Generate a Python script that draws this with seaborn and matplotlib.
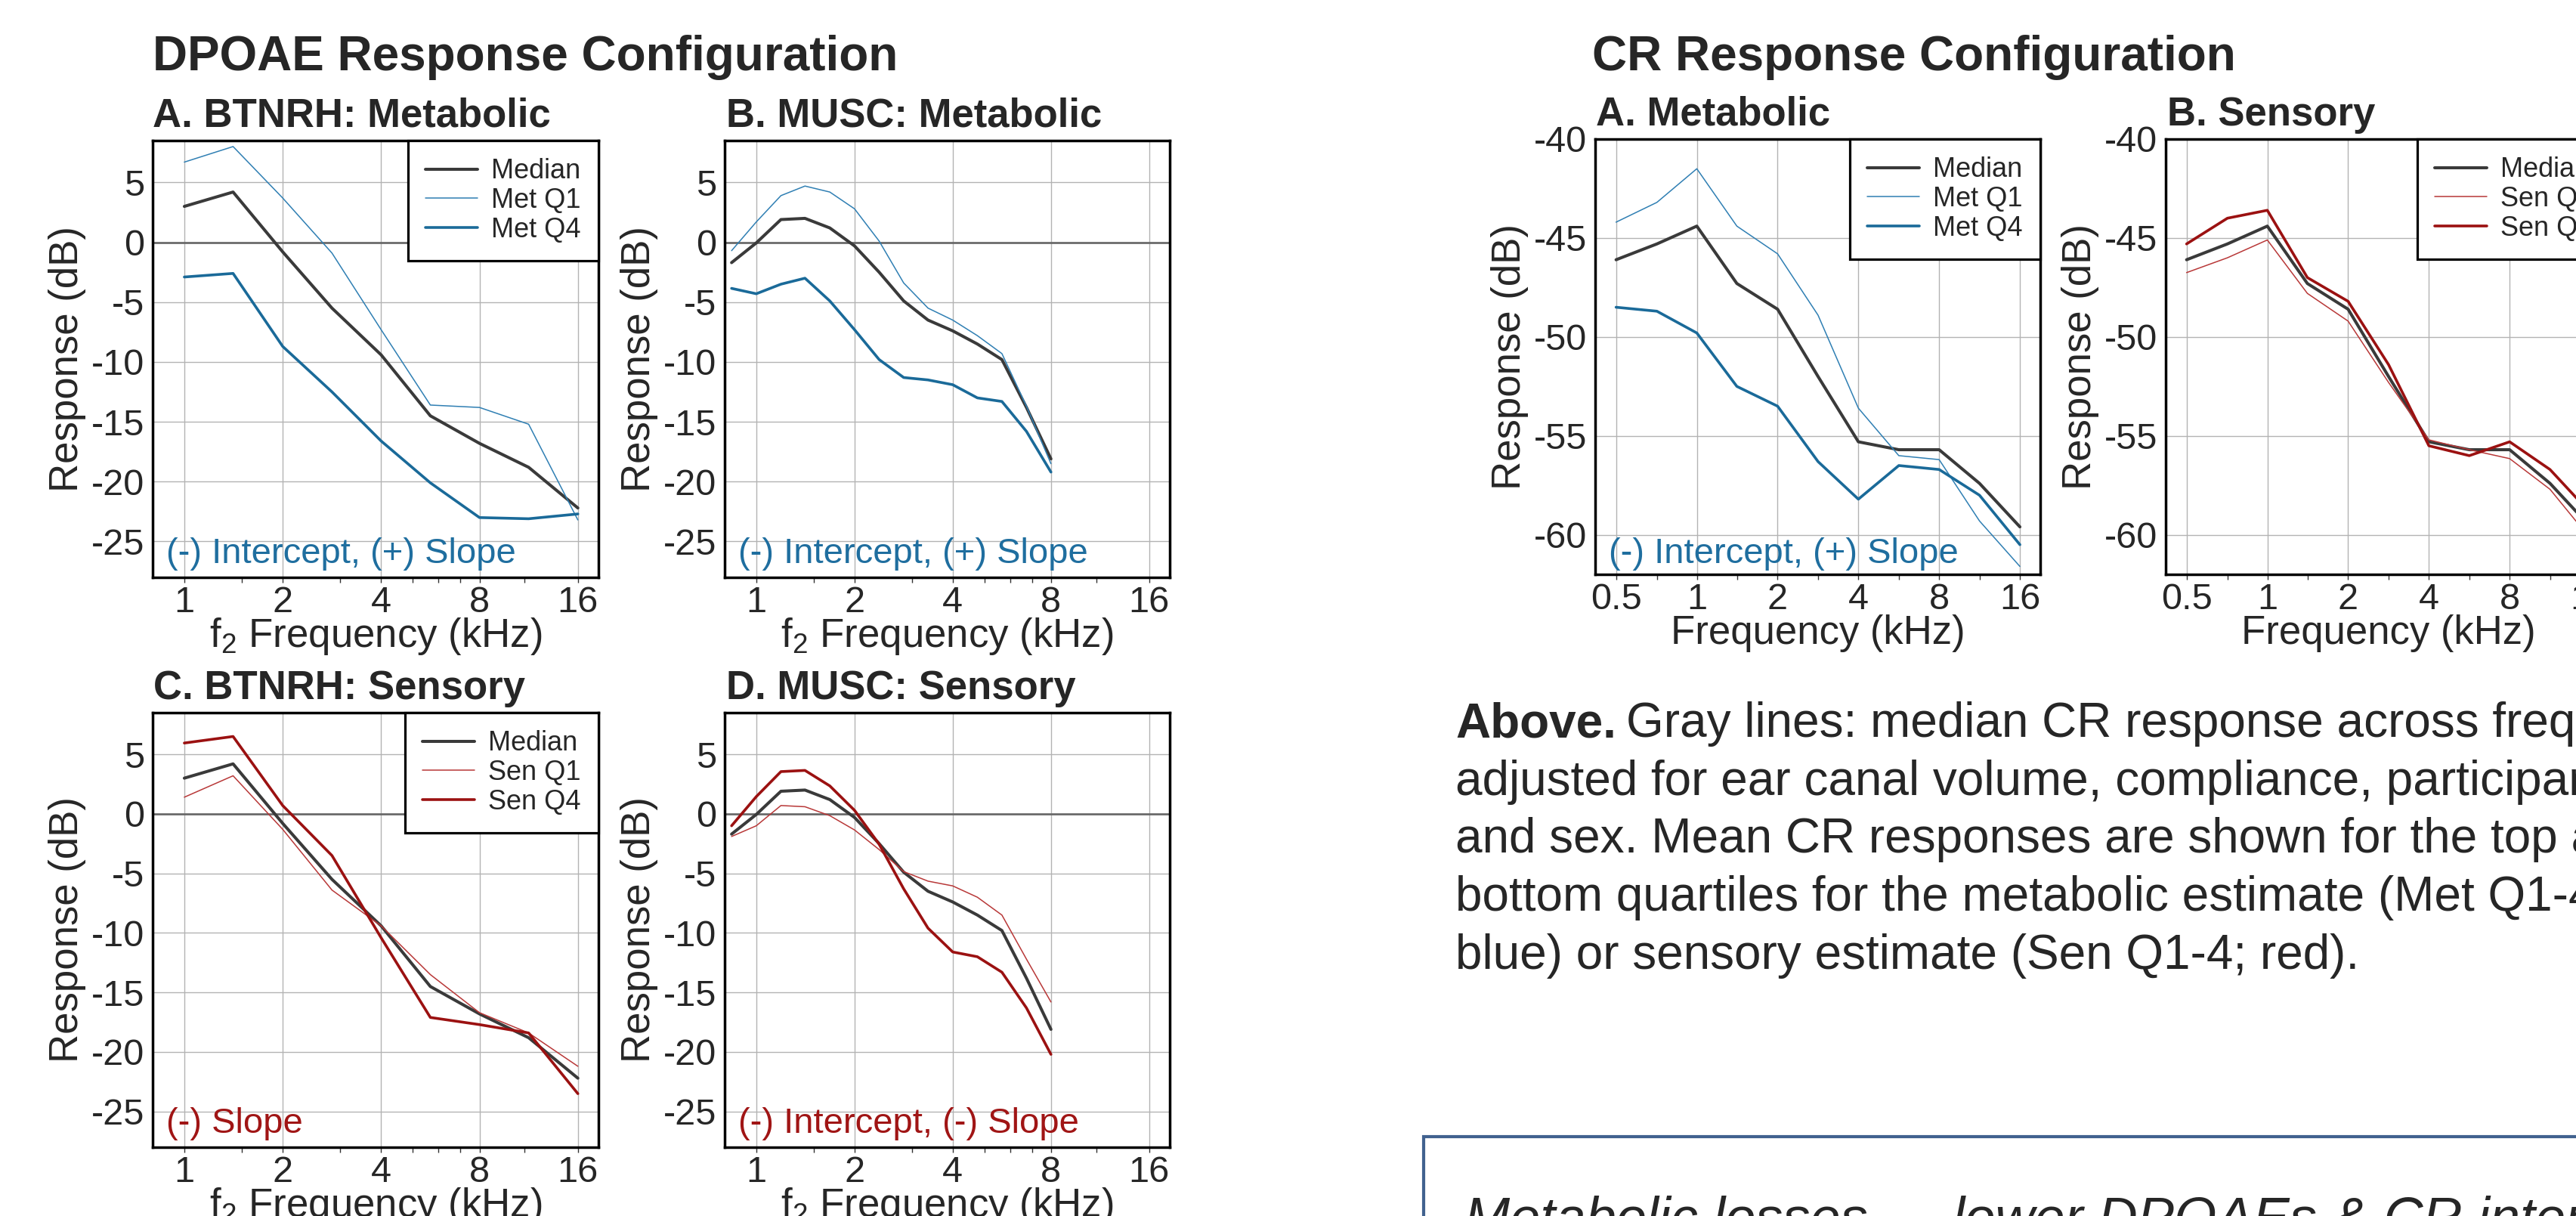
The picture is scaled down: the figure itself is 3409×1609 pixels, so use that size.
import matplotlib
matplotlib.use("Agg")
import matplotlib.pyplot as plt
import seaborn as sns
import numpy as np
import pandas as pd
from matplotlib.ticker import FixedLocator, NullFormatter, FixedFormatter
from matplotlib.patches import Rectangle

# ---------------- data ----------------
dp_freq_btnrh = [1.0, 1.41, 2.0, 2.83, 4.0, 5.66, 8.0, 11.31, 16.0]
dp_freq_musc = [0.84, 1.0, 1.19, 1.41, 1.68, 2.0, 2.38, 2.83, 3.36, 4.0, 4.76, 5.66, 6.73, 8.0]

btnrh_median = [3.0, 4.2, -0.8, -5.5, -9.4, -14.5, -16.8, -18.8, -22.2]
btnrh_met_q1 = [6.7, 8.0, 3.7, -0.9, -7.3, -13.6, -13.8, -15.2, -23.2]
btnrh_met_q4 = [-2.9, -2.6, -8.7, -12.5, -16.6, -20.1, -23.0, -23.1, -22.7]
btnrh_sen_q1 = [1.4, 3.2, -1.3, -6.4, -9.4, -13.5, -16.7, -18.4, -21.2]
btnrh_sen_q4 = [5.95, 6.5, 0.7, -3.5, -10.4, -17.1, -17.7, -18.4, -23.5]

musc_median = [-1.7, -0.05, 1.9, 2.0, 1.2, -0.3, -2.5, -4.9, -6.5, -7.4, -8.5, -9.8, -13.8, -18.1]
musc_met_q1 = [-0.7, 1.7, 3.9, 4.7, 4.2, 2.8, 0.1, -3.4, -5.5, -6.5, -7.8, -9.3, -13.7, -18.5]
musc_met_q4 = [-3.85, -4.3, -3.5, -3.0, -4.9, -7.3, -9.8, -11.3, -11.5, -11.9, -13.0, -13.3, -15.8, -19.2]
musc_sen_q1 = [-1.9, -1.0, 0.7, 0.6, -0.15, -1.35, -3.0, -4.85, -5.65, -6.05, -7.0, -8.5, -12.2, -15.8]
musc_sen_q4 = [-1.0, 1.45, 3.55, 3.65, 2.35, 0.3, -2.55, -6.3, -9.6, -11.6, -12.0, -13.3, -16.3, -20.2]

cr_freq = [0.5, 0.71, 1.0, 1.41, 2.0, 2.83, 4.0, 5.66, 8.0, 11.31, 16.0]
cr_median = [-46.1, -45.3, -44.4, -47.3, -48.6, -52.0, -55.3, -55.7, -55.7, -57.4, -59.6]
cr_met_q1 = [-44.2, -43.2, -41.5, -44.4, -45.8, -48.9, -53.6, -56.0, -56.2, -59.3, -61.6]
cr_met_q4 = [-48.5, -48.7, -49.8, -52.5, -53.5, -56.3, -58.2, -56.5, -56.7, -58.0, -60.5]
cr_sen_q1 = [-46.75, -46.0, -45.1, -47.8, -49.2, -52.3, -55.2, -55.7, -56.15, -57.7, -60.2]
cr_sen_q4 = [-45.3, -44.0, -43.6, -47.0, -48.2, -51.4, -55.5, -56.0, -55.3, -56.7, -58.9]

dp_xticks = [1, 2, 4, 8, 16]
dp_xticklabels = ["1", "2", "4", "8", "16"]
dp_xminor = [1.5, 3, 5, 6, 7, 11]
dp_yticks = [-25, -20, -15, -10, -5, 0, 5]
dp_yticklabels = ["-25", "-20", "-15", "-10", "-5", "0", "5"]
cr_xticks = [0.5, 1, 2, 4, 8, 16]
cr_xticklabels = ["0.5", "1", "2", "4", "8", "16"]
cr_xminor = [0.71, 1.41, 2.83, 5.66, 11.31]
cr_yticks = [-60, -55, -50, -45, -40]
cr_yticklabels = ["-60", "-55", "-50", "-45", "-40"]

caption_lines = [
    "Gray lines: median CR response across frequency,",
    "adjusted for ear canal volume, compliance, participant age,",
    "and sex. Mean CR responses are shown for the top and",
    "bottom quartiles for the metabolic estimate (Met Q1-4;",
    "blue) or sensory estimate (Sen Q1-4; red).",
]

# ---------------- style ----------------
sns.set_theme(style="white")
FONT = ["Liberation Sans", "Arial", "DejaVu Sans"]
plt.rcParams["font.family"] = FONT
plt.rcParams["mathtext.default"] = "regular"
plt.rcParams["axes.unicode_minus"] = False

C_MED = "#3a3a3a"
C_MET1 = "#2f7fb3"
C_MET4 = "#1a6a99"
C_SEN1 = "#b83838"
C_SEN4 = "#9b1111"
C_BLUE_TXT = "#1f6e9f"
C_RED_TXT = "#a01515"

TICK_FS = 35
LAB_FS = 38
LEG_FS = 26

W, H = 3409, 1609
fig = plt.figure(figsize=(W / 100, H / 100), dpi=100)


def add_ax(x0, y0, x1, y1):
    return fig.add_axes([x0 / W, 1 - y1 / H, (x1 - x0) / W, (y1 - y0) / H])


def panel(ax, freq, med, q1, q4, q1c, q4c, labels, xlim, ylim, xt, xtl, xmin, yt, ytl,
          zero, annot, annot_c, xlabel, annot_y=0.033):
    ax.set_xscale("log", base=2)
    sns.lineplot(x=freq, y=med, ax=ax, color=C_MED, linewidth=2.9, label=labels[0],
                 estimator=None, sort=False, zorder=4)
    sns.lineplot(x=freq, y=q1, ax=ax, color=q1c, linewidth=1.1, label=labels[1],
                 estimator=None, sort=False, zorder=4)
    sns.lineplot(x=freq, y=q4, ax=ax, color=q4c, linewidth=2.6, label=labels[2],
                 estimator=None, sort=False, zorder=4)
    ax.set_xlim(*xlim)
    ax.set_ylim(*ylim)
    ax.xaxis.set_major_locator(FixedLocator(xt))
    ax.xaxis.set_major_formatter(FixedFormatter(xtl))
    ax.xaxis.set_minor_locator(FixedLocator(xmin))
    ax.xaxis.set_minor_formatter(NullFormatter())
    ax.yaxis.set_major_locator(FixedLocator(yt))
    ax.yaxis.set_major_formatter(FixedFormatter(ytl))
    ax.grid(True, which="major", color="#b3b3b3", linewidth=1.0, zorder=0)
    ax.set_axisbelow(True)
    if zero:
        ax.axhline(0, color="#666666", linewidth=1.9, zorder=1.5)
    for s in ax.spines.values():
        s.set_visible(True)
        s.set_color("black")
        s.set_linewidth(2.5)
    ax.tick_params(axis="x", which="both", direction="out", length=5, width=1.0,
                   color="#333333", labelsize=TICK_FS, pad=3, bottom=True)
    ax.tick_params(axis="y", which="both", length=0, labelsize=TICK_FS, pad=8)
    ax.set_xlabel(xlabel, fontsize=LAB_FS)
    ax.set_ylabel("Response (dB)", fontsize=LAB_FS)
    ax.text(0.03, annot_y, annot, transform=ax.transAxes, color=annot_c, fontsize=34,
            ha="left", va="baseline", zorder=6)
    leg = ax.legend(loc="upper right", borderaxespad=0, frameon=True, fancybox=False,
                    edgecolor="black", framealpha=1, fontsize=LEG_FS, handlelength=1.9,
                    handletextpad=0.5, borderpad=0.65, labelspacing=0.1)
    leg.get_frame().set_linewidth(2.3)
    leg.set_zorder(10)
    return ax


dp_xlim = (0.80, 18.5)
dp_ylim = (-28, 8.5)
cr_xlim = (0.418, 19.05)
cr_ylim = (-62, -40)
f2lab = r"f$_2$ Frequency (kHz)"

axA = add_ax(202, 186, 792, 764)
panel(axA, dp_freq_btnrh, btnrh_median, btnrh_met_q1, btnrh_met_q4, C_MET1, C_MET4,
      ["Median", "Met Q1", "Met Q4"], dp_xlim, dp_ylim, dp_xticks, dp_xticklabels, dp_xminor,
      dp_yticks, dp_yticklabels, True, "(-) Intercept, (+) Slope", C_BLUE_TXT, f2lab)
axB = add_ax(959, 186, 1548, 764)
panel(axB, dp_freq_musc, musc_median, musc_met_q1, musc_met_q4, C_MET1, C_MET4,
      ["Median", "Met Q1", "Met Q4"], dp_xlim, dp_ylim, dp_xticks, dp_xticklabels, dp_xminor,
      dp_yticks, dp_yticklabels, True, "(-) Intercept, (+) Slope", C_BLUE_TXT, f2lab)
axB.get_legend().remove()
axC = add_ax(202, 943, 792, 1518)
panel(axC, dp_freq_btnrh, btnrh_median, btnrh_sen_q1, btnrh_sen_q4, C_SEN1, C_SEN4,
      ["Median", "Sen Q1", "Sen Q4"], dp_xlim, dp_ylim, dp_xticks, dp_xticklabels, dp_xminor,
      dp_yticks, dp_yticklabels, True, "(-) Slope", C_RED_TXT, f2lab)
axD = add_ax(959, 943, 1548, 1518)
panel(axD, dp_freq_musc, musc_median, musc_sen_q1, musc_sen_q4, C_SEN1, C_SEN4,
      ["Median", "Sen Q1", "Sen Q4"], dp_xlim, dp_ylim, dp_xticks, dp_xticklabels, dp_xminor,
      dp_yticks, dp_yticklabels, True, "(-) Intercept, (-) Slope", C_RED_TXT, f2lab)
axD.get_legend().remove()

axE = add_ax(2111, 184, 2700, 760)
panel(axE, cr_freq, cr_median, cr_met_q1, cr_met_q4, C_MET1, C_MET4,
      ["Median", "Met Q1", "Met Q4"], cr_xlim, cr_ylim, cr_xticks, cr_xticklabels, cr_xminor,
      cr_yticks, cr_yticklabels, False, "(-) Intercept, (+) Slope", C_BLUE_TXT,
      "Frequency (kHz)", annot_y=0.026)
axF = add_ax(2866, 184, 3455, 760)
panel(axF, cr_freq, cr_median, cr_sen_q1, cr_sen_q4, C_SEN1, C_SEN4,
      ["Median", "Sen Q1", "Sen Q4"], cr_xlim, cr_ylim, cr_xticks, cr_xticklabels, cr_xminor,
      cr_yticks, cr_yticklabels, False, "", C_RED_TXT, "Frequency (kHz)", annot_y=0.026)

# label positions
for ax, h in [(axA, 578), (axB, 578), (axC, 575), (axD, 575)]:
    ax.yaxis.set_label_coords(-88 / 590, 0.5)
    ax.xaxis.set_label_coords(0.5, -51 / h)
for ax in (axE, axF):
    ax.yaxis.set_label_coords(-88 / 589, 0.5)
    ax.xaxis.set_label_coords(0.5, -53 / 576)

# ---------------- titles ----------------
def ftext(x, y, s, **kw):
    return fig.text(x / W, 1 - y / H, s, **kw)

ftext(202, 93, "DPOAE Response Configuration", fontsize=46, fontweight="bold", va="baseline")
ftext(2107, 93, "CR Response Configuration", fontsize=46, fontweight="bold", va="baseline")
ftext(202, 168, "A. BTNRH: Metabolic", fontsize=38, fontweight="bold", va="baseline")
ftext(961, 168, "B. MUSC: Metabolic", fontsize=38, fontweight="bold", va="baseline")
ftext(203, 925, "C. BTNRH: Sensory", fontsize=38, fontweight="bold", va="baseline")
ftext(961, 925, "D. MUSC: Sensory", fontsize=38, fontweight="bold", va="baseline")
ftext(2112, 166, "A. Metabolic", fontsize=38, fontweight="bold", va="baseline")
ftext(2868, 166, "B. Sensory", fontsize=38, fontweight="bold", va="baseline")

# ---------------- caption ----------------
renderer = fig.canvas.get_renderer()
base0 = 975
pitch = 76.7
bold = ftext(1926, base0, "Above.", fontsize=46, fontweight="bold", va="baseline")
bb = bold.get_window_extent(renderer=renderer)
space_px = 13
for i, line in enumerate(caption_lines):
    y = base0 + i * pitch
    if i == 0:
        fig.text((bb.x1 + space_px) / W, 1 - y / H, line, fontsize=46, va="baseline")
    else:
        ftext(1926, y, line, fontsize=46, va="baseline")

# ---------------- bottom box ----------------
fig.add_artist(Rectangle((1884 / W, 1 - 1750 / H), (3600 - 1884) / W, (1750 - 1504) / H,
                         transform=fig.transFigure, fill=False, edgecolor="#41628f",
                         linewidth=3.0, clip_on=False))
ftext(1938, 1582, "Metabolic losses \u2192 lower DPOAEs & CR intercepts", fontsize=52,
      fontstyle="italic", va="top")

fig.savefig("out.png", dpi=100)
